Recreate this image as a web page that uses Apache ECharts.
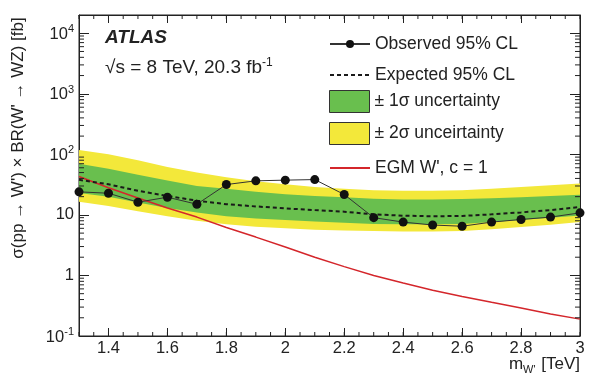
<!DOCTYPE html>
<html>
<head>
<meta charset="utf-8">
<script src="https://cdn.jsdelivr.net/npm/echarts@6/dist/echarts.min.js"></script>
<style>
  html, body { margin: 0; padding: 0; background: #fff; }
  #chart { width: 596px; height: 383px; }
</style>
</head>
<body>
<div id="chart"></div>
<script>
// W' mass points [TeV]
const massTeV   = [1.3, 1.4, 1.5, 1.6, 1.7, 1.8, 1.9, 2.0, 2.1, 2.2, 2.3, 2.4, 2.5, 2.6, 2.7, 2.8, 2.9, 3.0];
// 95% CL limits on sigma x BR [fb]
const observed  = [24, 22.8, 16.2, 19.6, 15, 31.7, 36.5, 37.5, 38.3, 21.7, 9.0, 7.6, 6.8, 6.5, 7.6, 8.4, 9.2, 10.8];
const expected  = [38, 32, 25, 20.5, 17.2, 15, 13.8, 12.8, 12, 11.3, 10.2, 9.7, 9.5, 9.6, 10.2, 11, 12, 13.5];
const plus2Sig  = [118, 100, 80, 62, 50, 42, 36, 32, 29, 27, 25.5, 25, 25, 25.5, 27, 29, 31, 33];
const plus1Sig  = [70, 58, 46, 37, 30, 27, 24, 22, 20.5, 19.5, 18.5, 18, 18, 18.3, 18.8, 19.6, 20.5, 21.5];
const minus1Sig = [23, 20, 16, 13, 11, 9.5, 8.7, 8.2, 7.8, 7.4, 7.1, 7.0, 7.0, 7.1, 7.6, 8.2, 9.0, 9.8];
const minus2Sig = [16.5, 14, 11.5, 9.5, 8, 7, 6.4, 6.0, 5.7, 5.5, 5.4, 5.3, 5.3, 5.4, 5.8, 6.3, 6.9, 7.6];
// EGM W' theory prediction, c = 1 [fb]
const egmTheory = [43, 28, 19, 13, 9.2, 6.2, 4.3, 2.95, 2.0, 1.4, 1.0, 0.75, 0.57, 0.45, 0.36, 0.29, 0.23, 0.19];

// Axis ticks and labels
const xTickValues = [1.4, 1.6, 1.8, 2.0, 2.2, 2.4, 2.6, 2.8, 3.0];
const xTickLabels = ['1.4', '1.6', '1.8', '2', '2.2', '2.4', '2.6', '2.8', '3'];
const yTickValues = [0.1, 1, 10, 100, 1000, 10000];
const yTickLabels = ['{b|10}{e|-1}', '{b|1}', '{b|10}', '{b|10}{e|2}', '{b|10}{e|3}', '{b|10}{e|4}'];

const X_MIN = 1.3, X_MAX = 3.0, Y_MIN = 0.1, Y_MAX = 20000;
const FONT = '"Liberation Sans", Arial, Helvetica, sans-serif';
const INK = '#222';

// minor tick positions: every 0.05 TeV on x, 2..9 per decade on y
const xMinorTicks = [];
for (let k = 26; k <= 60; k++) xMinorTicks.push(k * 0.05);
const yMinorTicks = [];
for (let d = -1; d <= 4; d++) for (let m = 2; m <= 9; m++) {
  const v = m * Math.pow(10, d);
  if (v < Y_MAX) yMinorTicks.push(v);
}

const pts = arr => massTeV.map((m, i) => [m, arr[i]]);

function bandSeries(name, upper, lower, color, z) {
  return {
    type: 'custom', name: name, z: z, clip: true,
    itemStyle: { color: color },
    data: [[massTeV[0], lower[0]]],
    renderItem: function (params, api) {
      const poly = [];
      for (let i = 0; i < massTeV.length; i++) poly.push(api.coord([massTeV[i], upper[i]]));
      for (let i = massTeV.length - 1; i >= 0; i--) poly.push(api.coord([massTeV[i], lower[i]]));
      return { type: 'polygon', shape: { points: poly }, style: { fill: color } };
    }
  };
}

const minorTickSeries = {
  type: 'custom', name: 'minor ticks', z: 8, silent: true,
  data: [[X_MIN, 1]],
  renderItem: function (params, api) {
    const children = [];
    const line = (x1, y1, x2, y2) => children.push({
      type: 'line', shape: { x1, y1, x2, y2 }, style: { stroke: INK, lineWidth: 1 }
    });
    xMinorTicks.forEach(v => {
      const b = api.coord([v, Y_MIN]);
      const t = api.coord([v, Y_MAX]);
      line(b[0], b[1], b[0], b[1] - 4);
      line(t[0], t[1], t[0], t[1] + 4);
    });
    yMinorTicks.forEach(v => {
      const l = api.coord([X_MIN, v]);
      const r = api.coord([X_MAX, v]);
      line(l[0], l[1], l[0] + 5, l[1]);
      line(r[0], r[1], r[0] - 5, r[1]);
    });
    return { type: 'group', children: children };
  }
};

function legendRow(item, top, h) {
  return {
    data: [item], left: 329, top: top, orient: 'vertical', padding: 0,
    itemWidth: 40, itemHeight: h, selectedMode: false,
    textStyle: { fontSize: 17.5, color: INK, fontFamily: FONT }
  };
}

const yLabelFormatter = function (v) {
  const idx = yTickValues.findIndex(t => Math.abs(t - v) / t < 1e-6);
  return idx < 0 ? '' : yTickLabels[idx];
};
const yRich = {
  b: { fontSize: 16.5, color: INK, fontFamily: FONT, verticalAlign: 'bottom' },
  e: { fontSize: 11, color: INK, fontFamily: FONT, verticalAlign: 'bottom', padding: [0, 0, 8, 0] }
};

const chart = echarts.init(document.getElementById('chart'), null, { renderer: 'canvas' });
chart.setOption({
  animation: false,
  backgroundColor: '#fff',
  textStyle: { fontFamily: FONT },
  grid: { left: 79, right: 16, top: 15, bottom: 47, show: true, borderColor: INK, borderWidth: 1, backgroundColor: 'transparent' },
  xAxis: [{
    type: 'value', min: X_MIN, max: X_MAX, position: 'bottom',
    axisLine: { show: true, lineStyle: { color: INK } },
    axisTick: { show: true, inside: true, length: 8, customValues: xTickValues, lineStyle: { color: INK } },
    axisLabel: {
      customValues: xTickValues, fontSize: 16.5, color: INK, fontFamily: FONT, margin: 4,
      formatter: v => { const i = xTickValues.findIndex(t => Math.abs(t - v) < 1e-6); return i < 0 ? '' : xTickLabels[i]; }
    },
    splitLine: { show: false }
  }, {
    type: 'value', min: X_MIN, max: X_MAX, position: 'top',
    axisLine: { show: true, lineStyle: { color: INK } },
    axisTick: { show: true, inside: true, length: 8, customValues: xTickValues, lineStyle: { color: INK } },
    axisLabel: { show: false },
    splitLine: { show: false }
  }],
  yAxis: [{
    type: 'log', logBase: 10, min: Y_MIN, max: Y_MAX, position: 'left',
    axisLine: { show: true, lineStyle: { color: INK } },
    axisTick: { show: true, inside: true, length: 10, lineStyle: { color: INK } },
    axisLabel: { formatter: yLabelFormatter, rich: yRich, margin: 5, showMaxLabel: false },
    splitLine: { show: false }
  }, {
    type: 'log', logBase: 10, min: Y_MIN, max: Y_MAX, position: 'right',
    axisLine: { show: true, lineStyle: { color: INK } },
    axisTick: { show: true, inside: true, length: 10, lineStyle: { color: INK } },
    axisLabel: { show: false },
    splitLine: { show: false }
  }],
  legend: [
    legendRow({ name: 'Observed 95% CL' }, 35, 10),
    legendRow({ name: 'Expected 95% CL', itemStyle: { opacity: 0 } }, 66, 10),
    legendRow({ name: '± 1σ uncertainty', icon: 'rect', itemStyle: { borderColor: '#333', borderWidth: 1 } }, 90, 22),
    legendRow({ name: '± 2σ unceirtainty', icon: 'rect', itemStyle: { borderColor: '#333', borderWidth: 1 } }, 122, 22),
    legendRow({ name: "EGM W', c = 1", itemStyle: { opacity: 0 } }, 159, 10)
  ],
  graphic: [
    { type: 'text', left: 105, top: 28, style: { text: 'ATLAS', font: 'italic bold 19px ' + FONT, fill: INK } },
    {
      type: 'text', left: 105, top: 57,
      style: {
        text: '√s = 8 TeV, 20.3 fb{s|-1}', font: '19px ' + FONT, fill: INK,
        rich: { s: { fontSize: 12, fill: INK, verticalAlign: 'bottom', padding: [0, 0, 10, 0] } }
      }
    },
    {
      type: 'text', x: 18, y: 138, rotation: Math.PI / 2,
      style: {
        text: "σ(pp → W') × BR(W' → WZ) [fb]", font: '17px ' + FONT, fill: INK,
        align: 'center', verticalAlign: 'middle'
      }
    },
    {
      type: 'text', right: 16, top: 356,
      style: {
        text: 'm{w|W\'} [TeV]', font: '17px ' + FONT, fill: INK,
        rich: { w: { fontSize: 11, fill: INK, verticalAlign: 'top', padding: [10, 1, 0, 0] } }
      }
    }
  ],
  series: [
    bandSeries('± 2σ unceirtainty', plus2Sig, minus2Sig, '#f3e83a', 1),
    bandSeries('± 1σ uncertainty', plus1Sig, minus1Sig, '#69bf4e', 2),
    {
      type: 'line', name: "EGM W', c = 1", z: 3, data: pts(egmTheory),
      symbol: 'none', lineStyle: { color: '#d4262b', width: 1.5 }, itemStyle: { color: '#d4262b' }
    },
    {
      type: 'line', name: 'Expected 95% CL', z: 4, data: pts(expected),
      symbol: 'none', lineStyle: { color: '#1a1a1a', width: 2, type: [4, 3] }, itemStyle: { color: '#1a1a1a' }
    },
    {
      type: 'line', name: 'Observed 95% CL', z: 5, data: pts(observed),
      symbol: 'circle', symbolSize: 9,
      lineStyle: { color: '#333', width: 1 }, itemStyle: { color: '#111' }
    },
    minorTickSeries
  ]
});
</script>
</body>
</html>
